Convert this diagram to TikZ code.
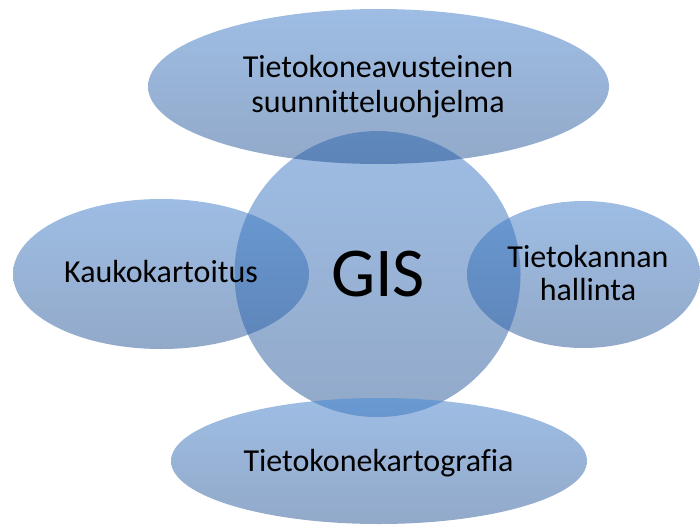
\documentclass[tikz,border=0pt]{standalone}
\usepackage{fontspec}
\setmainfont[Ligatures={NoCommon}]{Carlito}
\definecolor{lt}{RGB}{158,189,228}
\definecolor{lb}{RGB}{146,169,201}
\definecolor{dt}{RGB}{106,153,210}
\definecolor{db}{RGB}{93,132,184}
\tikzset{
  blob/.style={top color=lt, bottom color=lb, draw=none},
  lap/.style={top color=dt, bottom color=db, draw=none},
  lbl/.style={anchor=base, inner sep=0pt, font=\fontsize{32}{38}\selectfont, text=black},
}
\begin{document}
\begin{tikzpicture}[x=1pt,y=-1pt]
\useasboundingbox (0,0) rectangle (700,527);
% base shapes
\path[blob] (378.5,86.5) ellipse [x radius=230.5pt, y radius=77.5pt];
\path[blob] (161,274) ellipse [x radius=148pt, y radius=75pt];
\path[blob] (583.5,274.5) ellipse [x radius=116.5pt, y radius=73.5pt];
\path[blob] (379,461) ellipse [x radius=208pt, y radius=63pt];
\path[blob] (377.5,274) circle [radius=143pt];
% overlaps
\begin{scope}
  \clip (377.5,274) circle [radius=143pt];
  \path[lap] (378.5,86.5) ellipse [x radius=230.5pt, y radius=77.5pt];
  \path[lap] (161,274) ellipse [x radius=148pt, y radius=75pt];
  \path[lap] (583.5,274.5) ellipse [x radius=116.5pt, y radius=73.5pt];
  \path[lap] (379,461) ellipse [x radius=208pt, y radius=63pt];
\end{scope}
% labels
\node[lbl] (t1) at (378,77) {Tietokoneavusteinen};
\node[lbl] (t2) at (378,112) {suunnitteluohjelma};
\node[lbl] (kk) at (161,282) {Kaukokartoitus};
\node[lbl] (r1) at (588,267) {Tietokannan};
\node[lbl] (r2) at (588,300) {hallinta};
\node[lbl] (bt) at (378.5,471) {Tietokonekartografia};
\node[lbl, font=\fontsize{70}{84}\selectfont] (gis) at (378,296) {GIS};
\end{tikzpicture}
\end{document}
